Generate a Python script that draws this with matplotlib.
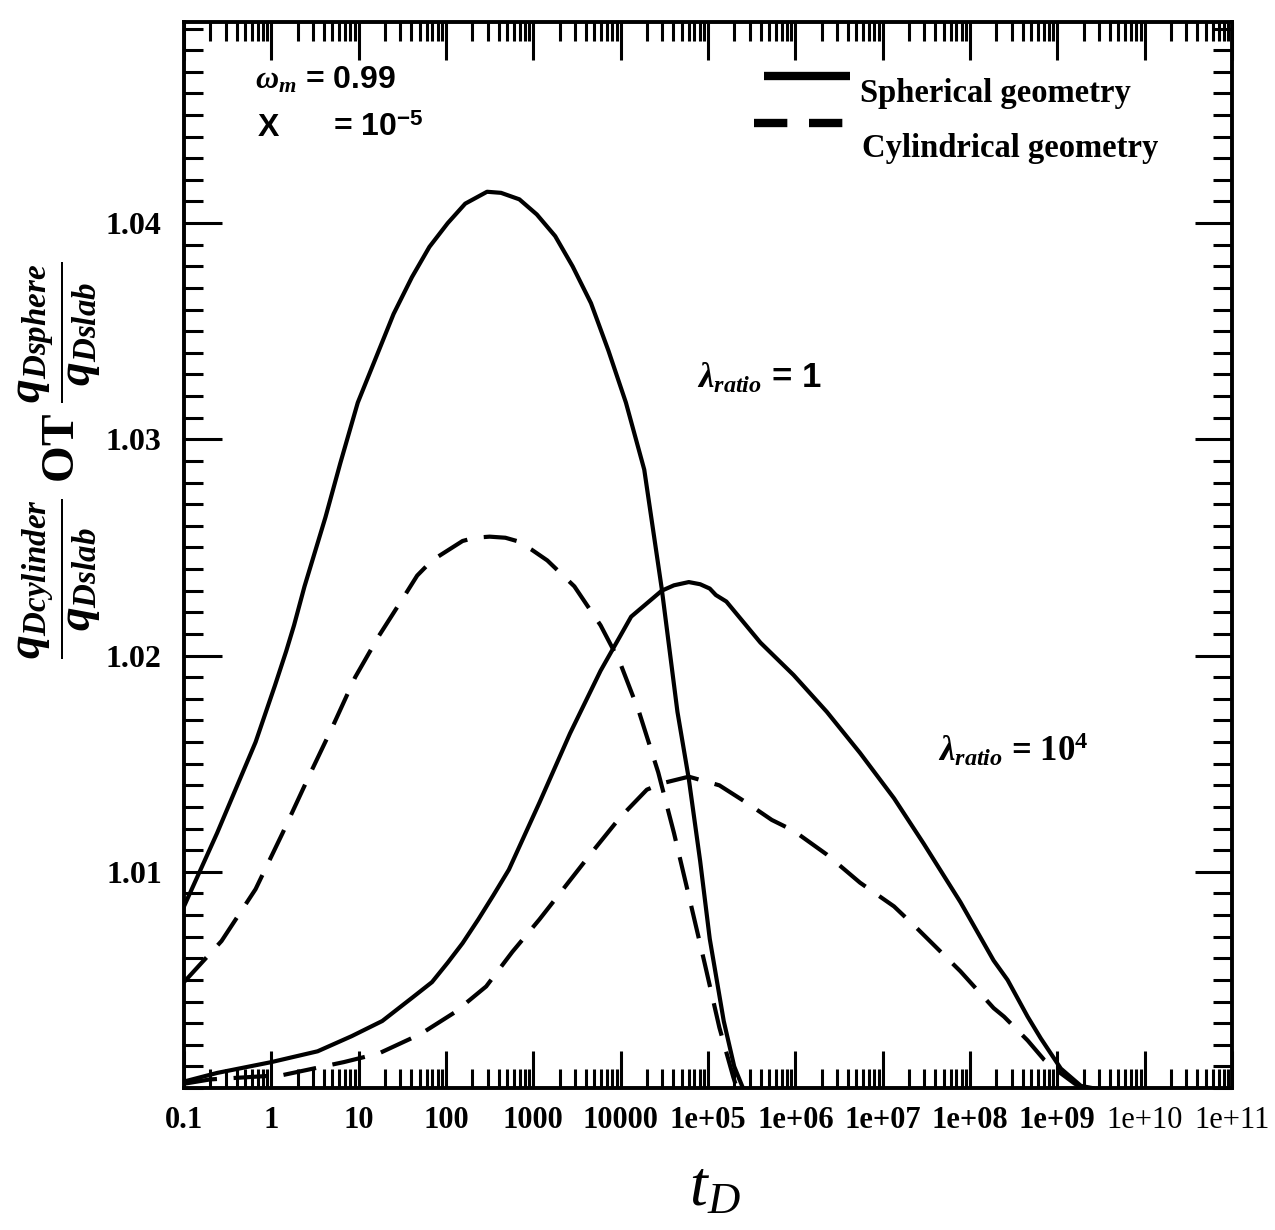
import matplotlib
matplotlib.use('Agg')

import matplotlib.pyplot as plt
from matplotlib.lines import Line2D
from matplotlib.ticker import FixedLocator, LogLocator, MultipleLocator, NullFormatter
import numpy as np

# Lecturas de la figura (log10 tD, q ratio)
sph_lam1_logt = [-1.00, -0.62, -0.40, -0.18, 0.04, 0.17, 0.26, 0.38, 0.62, 0.79, 0.99, 1.20, 1.40,
                 1.61, 1.81, 2.02, 2.22, 2.47, 2.63, 2.84, 3.04, 3.25, 3.45, 3.66, 3.86, 4.06,
                 4.27, 4.47, 4.65, 4.78, 4.91, 5.02, 5.18, 5.30, 5.40]
sph_lam1 = [1.0084, 1.0118, 1.0139, 1.0160, 1.0186, 1.0202, 1.0214, 1.0232, 1.0264, 1.0289, 1.0317, 1.0338, 1.0358,
            1.0375, 1.0389, 1.0400, 1.0409, 1.04145, 1.0414, 1.0411, 1.0404, 1.0394, 1.0380, 1.0363, 1.0341, 1.0317,
            1.0286, 1.0231, 1.0174, 1.0143, 1.0105, 1.0069, 1.0031, 1.0010, 1.0000]

cyl_lam1_logt = [-1.00, -0.57, -0.18, 0.13, 0.44, 0.70, 0.96, 1.23, 1.53, 1.67, 1.84, 2.19, 2.33, 2.50,
                 2.68, 2.81, 2.98, 3.16, 3.47, 3.77, 3.99, 4.21, 4.43, 4.61, 4.78, 4.96, 5.13, 5.29, 5.33]
cyl_lam1 = [1.0049, 1.0068, 1.0092, 1.0118, 1.0145, 1.0167, 1.0190, 1.0209, 1.0228, 1.0237, 1.0244, 1.0253, 1.02545, 1.0255,
            1.02545, 1.0253, 1.0249, 1.0244, 1.0232, 1.0214, 1.0197, 1.0174, 1.0146, 1.0118, 1.0089, 1.0058, 1.0028, 1.0005, 1.0000]

sph_lam4_logt = [-1.00, -0.62, 0.00, 0.53, 0.92, 1.27, 1.62, 1.84, 2.02, 2.19, 2.37, 2.54, 2.72, 3.07, 3.42, 3.77,
                 4.12, 4.47, 4.61, 4.78, 4.91, 5.02, 5.09, 5.21, 5.60, 5.98, 6.36, 6.74, 7.13, 7.47, 7.89, 8.27,
                 8.43, 8.66, 8.81, 9.04, 9.27, 9.40]
sph_lam4 = [1.0003, 1.0007, 1.0012, 1.0017, 1.0024, 1.0031, 1.0042, 1.0049, 1.0058, 1.0067, 1.0078, 1.0089, 1.0101, 1.0132, 1.0164, 1.0193,
            1.0218, 1.0230, 1.02325, 1.0234, 1.0233, 1.0231, 1.0228, 1.0225, 1.0206, 1.0191, 1.0174, 1.0155, 1.0134, 1.0113, 1.0086, 1.0059,
            1.0050, 1.0033, 1.0023, 1.0009, 1.0001, 1.0000]

cyl_lam4_logt = [-1.00, -0.70, 0.13, 0.83, 1.23, 1.71, 2.10, 2.46, 2.76, 3.07, 3.38, 3.69, 3.99,
                 4.30, 4.48, 4.78, 5.13, 5.44, 5.73, 5.98, 6.36, 6.74, 7.13, 7.39, 7.89, 8.27,
                 8.39, 8.66, 8.85, 9.00, 9.20, 9.30]
cyl_lam4 = [1.0002, 1.0004, 1.0006, 1.0012, 1.0016, 1.0025, 1.0035, 1.0047, 1.0063, 1.0078, 1.0094, 1.0110, 1.0125,
            1.0138, 1.0141, 1.0144, 1.0140, 1.0132, 1.0124, 1.0119, 1.0108, 1.0095, 1.0084, 1.0074, 1.0054, 1.0037,
            1.0033, 1.0022, 1.0013, 1.0008, 1.0002, 1.0000]

x_ticks = [0.1, 1, 10, 100, 1000, 10000, 1e5, 1e6, 1e7, 1e8, 1e9, 1e10, 1e11]
x_labels = ['0.1', '1', '10', '100', '1000', '10000', '1e+05', '1e+06', '1e+07',
            '1e+08', '1e+09', '1e+10', '1e+11']
y_ticks = [1.01, 1.02, 1.03, 1.04]
y_labels = ['1.01', '1.02', '1.03', '1.04']

plt.rcParams['font.family'] = ['Liberation Serif', 'DejaVu Serif']
plt.rcParams['mathtext.fontset'] = 'custom'
plt.rcParams['mathtext.rm'] = 'Liberation Serif:bold'
plt.rcParams['mathtext.it'] = 'Liberation Serif:italic:bold'
plt.rcParams['mathtext.bf'] = 'Liberation Serif:bold'
plt.rcParams['mathtext.cal'] = 'Liberation Serif:italic'
plt.rcParams['mathtext.sf'] = 'Liberation Sans:bold'

fig = plt.figure(figsize=(12.75, 12.3), dpi=100)
ax = fig.add_axes([0.1443, 0.1154, 0.822, 0.8667])

lw = 3
dash = (0, (8, 4))
ax.plot(10 ** np.array(sph_lam1_logt), sph_lam1, color='black', lw=lw)
ax.plot(10 ** np.array(cyl_lam1_logt), cyl_lam1, color='black', lw=lw, linestyle=dash)
ax.plot(10 ** np.array(sph_lam4_logt), sph_lam4, color='black', lw=lw)
ax.plot(10 ** np.array(cyl_lam4_logt), cyl_lam4, color='black', lw=lw, linestyle=dash)

ax.set_xscale('log')
ax.set_xlim(0.1, 1e11)
ax.set_ylim(1.0, 1.0493)

ax.xaxis.set_major_locator(FixedLocator(x_ticks))
ax.set_xticklabels(x_labels)
ax.xaxis.set_minor_locator(LogLocator(base=10, subs=np.arange(2, 10), numticks=40))
ax.xaxis.set_minor_formatter(NullFormatter())
ax.set_yticks(y_ticks)
ax.set_yticklabels(y_labels)
ax.yaxis.set_minor_locator(MultipleLocator(0.001))

ax.tick_params(which='both', direction='in', top=True, right=True, width=2.2)
ax.tick_params(axis='x', which='major', length=27, pad=13, labelsize=22)
ax.tick_params(axis='x', which='minor', length=14)
ax.tick_params(axis='y', which='major', length=27, pad=16, labelsize=23)
ax.tick_params(axis='y', which='minor', length=14)
for lab in ax.get_xticklabels()[:-2] + ax.get_yticklabels():
    lab.set_fontweight('bold')

for s in ax.spines.values():
    s.set_linewidth(2.8)

# textos de parámetros
ax.text(0.068, 0.9456, r'$\omega_m$ = 0.99', transform=ax.transAxes, fontsize=23,
        fontweight='bold', family=['Liberation Sans', 'DejaVu Sans'], va='center')
ax.text(0.0706, 0.9006, 'X', transform=ax.transAxes, fontsize=23,
        fontweight='bold', family=['Liberation Sans', 'DejaVu Sans'], va='center')
ax.text(0.142, 0.9006, r'= 10$^{\mathsf{-5}}$', transform=ax.transAxes, fontsize=23,
        fontweight='bold', family=['Liberation Sans', 'DejaVu Sans'], va='center')

# leyenda manual
ax.add_line(Line2D([0.5534, 0.6355], [0.9493, 0.9493], transform=ax.transAxes,
                   color='black', lw=6, solid_capstyle='butt'))
ax.add_line(Line2D([0.5439, 0.6317], [0.9053, 0.9053], transform=ax.transAxes,
                   color='black', lw=6, linestyle=(0, (4.0, 2.6)), dash_capstyle='butt'))
ax.text(0.645, 0.9334, 'Spherical geometry', transform=ax.transAxes, fontsize=23.5,
        fontweight='bold', va='center')
ax.text(0.647, 0.8818, 'Cylindrical geometry', transform=ax.transAxes, fontsize=23.5,
        fontweight='bold', va='center')

ax.text(0.4895, 0.666, r'$\lambda_{ratio}$ = 1', transform=ax.transAxes, fontsize=25,
        fontweight='bold', family=['Liberation Sans', 'DejaVu Sans'], va='center')
ax.text(0.7195, 0.317, r'$\lambda_{ratio}$ = 10$^4$', transform=ax.transAxes, fontsize=25,
        fontweight='bold', va='center')

fig.text(0.561, 0.0325, r'$\mathcal{t}_{\mathcal{D}}$', fontsize=46, ha='center', va='center')
fig.text(0.047, 0.626, r'$\dfrac{q_{Dcylinder}}{q_{Dslab}}$ OT $\dfrac{q_{Dsphere}}{q_{Dslab}}$',
         rotation=90, fontsize=34, fontweight='bold', ha='center', va='center')

plt.savefig('out.png', dpi=100, facecolor='white')
